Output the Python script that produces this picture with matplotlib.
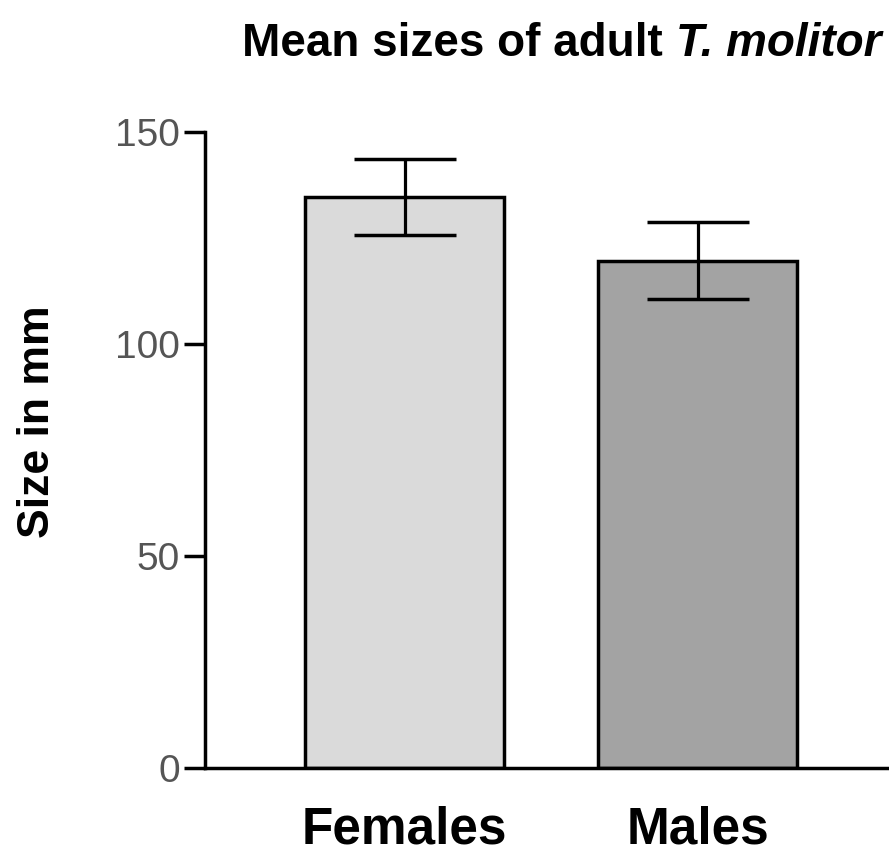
import matplotlib
matplotlib.use("Agg")
import matplotlib.pyplot as plt
import matplotlib.transforms as mtransforms

# values
categories = ["Females", "Males"]
mean_size = [134.8, 119.7]
sem_size = [9.0, 9.1]
bar_colors = ["#dadada", "#a3a3a3"]
y_ticks = [0, 50, 100, 150]

FONT = "Liberation Sans"

W, H = 889, 856
fig = plt.figure(figsize=(W / 100, H / 100), dpi=100)
ax = fig.add_axes([205 / W, 1 - 768 / H, 1 - 205 / W, (768 - 132.3) / H])

x = list(range(len(categories)))
ax.bar(x, mean_size, width=0.678, color=bar_colors, edgecolor="black",
       linewidth=2.5, zorder=2)
ax.errorbar(x, mean_size, yerr=sem_size, fmt="none", ecolor="black",
            elinewidth=2.3, capsize=37, capthick=2.5, zorder=3)

ax.set_xlim(-0.680, 1.651)
ax.set_ylim(0, 150)
ax.set_yticks(y_ticks)
ax.set_xticks([])
ax.tick_params(axis="y", direction="out", length=15, width=2.5, pad=3,
               labelsize=28, labelcolor="#555555")
for lab in ax.get_yticklabels():
    lab.set_family(FONT)

for side in ("top", "right"):
    ax.spines[side].set_visible(False)
for side in ("left", "bottom"):
    ax.spines[side].set_linewidth(2.5)

# category labels sit low, close to the bottom edge
trans = mtransforms.blended_transform_factory(ax.transData, fig.transFigure)
for xi, name in zip(x, categories):
    ax.text(xi, 13 / H, name, transform=trans, ha="center", va="baseline",
            fontsize=37, fontweight="bold", family=FONT)

fig.text(38 / W, 1 - 422 / H, "Size in mm", rotation=90, ha="center",
         va="center", fontsize=32, fontweight="bold", family=FONT)

# title: upright part + italic species name, centred together
title_y = 1 - 56 / H
t1 = fig.text(0, title_y, "Mean sizes of adult ", ha="left", va="baseline",
              fontsize=33, fontweight="bold", family=FONT)
t2 = fig.text(0, title_y, "T. molitor", ha="left", va="baseline",
              fontsize=33, fontweight="bold", style="italic", family=FONT)
r = fig.canvas.get_renderer()
w1 = t1.get_window_extent(r).width
w2 = t2.get_window_extent(r).width
left = 562 - (w1 + w2) / 2
t1.set_x(left / W)
t2.set_x((left + w1) / W)

fig.savefig("out.png", dpi=100)
